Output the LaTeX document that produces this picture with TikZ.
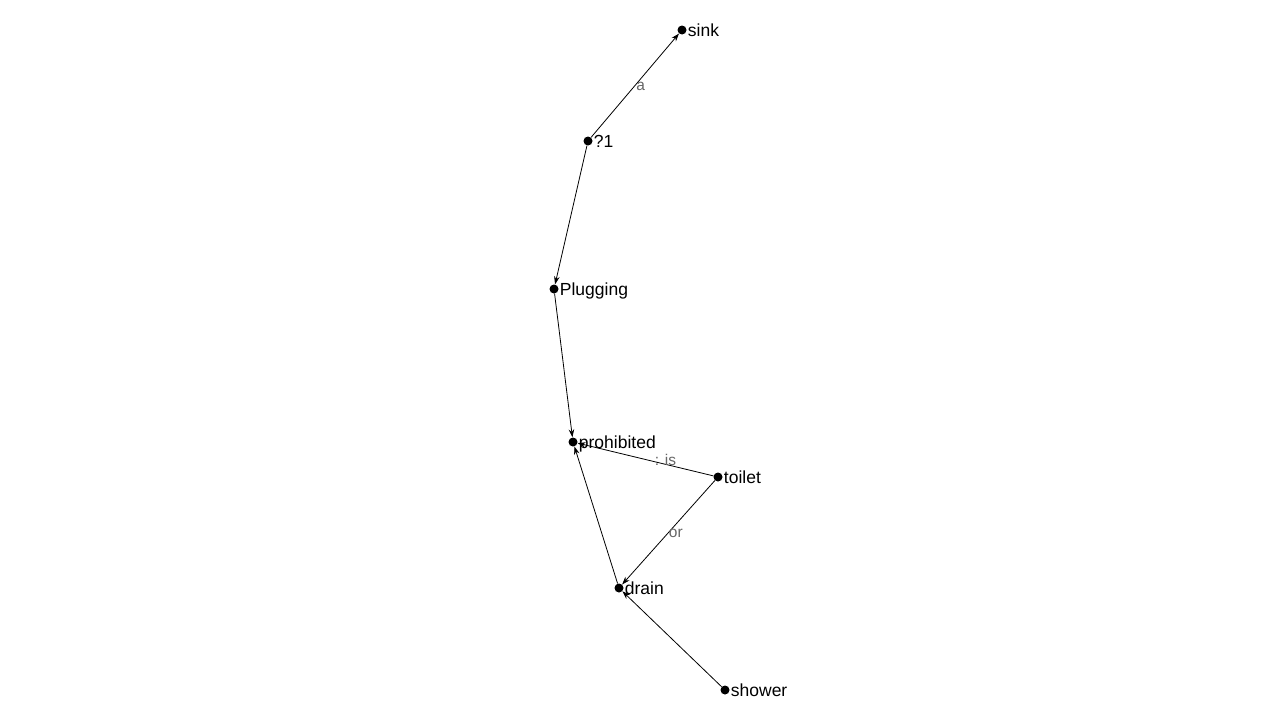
\documentclass[tikz,border=0pt]{standalone}
\usepackage{fontspec}
\setmainfont{Liberation Sans}
\usetikzlibrary{arrows.meta}
\begin{document}
\begin{tikzpicture}[x=1pt,y=-1pt,
  dot/.style={circle,fill=black,inner sep=0pt,minimum size=9pt},
  lbl/.style={anchor=base west,inner sep=0pt,xshift=1pt,yshift=-6.2pt,
    font=\fontsize{17.5}{20}\selectfont},
  edge/.style={draw=black,line width=0.8pt,-{Stealth[length=8pt,width=5.5pt]}},
  elbl/.style={anchor=west,inner sep=0pt,text=black!60,
    font=\fontsize{15.5}{17}\selectfont}]
\useasboundingbox (0,0) rectangle (1280,720);
\fill[white] (0,0) rectangle (1280,720);
% vertices
\node[dot] (sink) at (682,30) {};
\node[dot] (q1) at (588,141) {};
\node[dot] (plug) at (554,289) {};
\node[dot] (proh) at (573,442) {};
\node[dot] (toilet) at (718,477) {};
\node[dot] (drain) at (619,588) {};
\node[dot] (shower) at (725,690) {};
% vertex names
\node[lbl] (tsink) at (sink.east) {sink};
\node[lbl] (tq1) at (q1.east) {?1};
\node[lbl] (tplug) at (plug.east) {Plugging};
\node[lbl] (tproh) at (proh.east) {prohibited};
\node[lbl] (ttoilet) at (toilet.east) {toilet};
\node[lbl] (tdrain) at (drain.east) {drain};
\node[lbl] (tshower) at (shower.east) {shower};
% relations
\draw[edge] (q1) -- node[elbl,xshift=1pt,yshift=-1pt] (ea) {a} (sink);
\draw[edge] (q1) -- (plug);
\draw[edge] (plug) -- (proh);
\draw[edge] (toilet) -- node[elbl,xshift=9pt] (eis) {: is} (proh);
\draw[edge] (toilet) -- node[elbl,xshift=0pt,yshift=-1pt] (eor) {or} (drain);
\draw[edge] (drain) -- (proh);
\draw[edge] (shower) -- (drain);
\end{tikzpicture}
\end{document}
